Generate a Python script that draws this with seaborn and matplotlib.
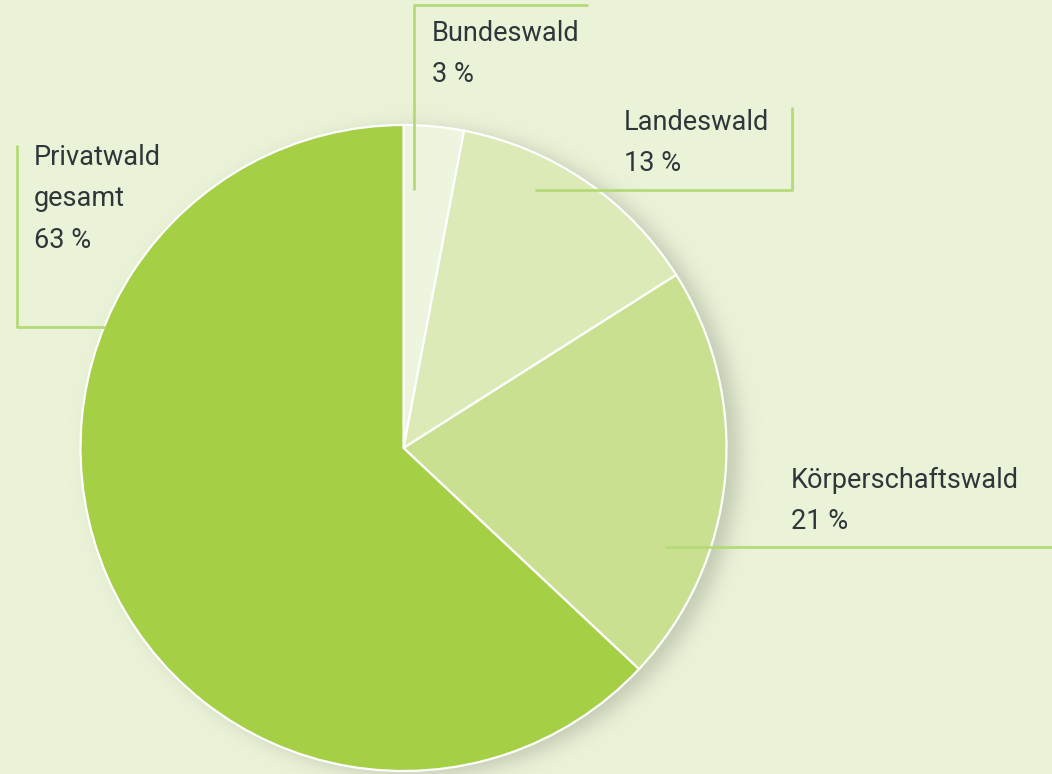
import numpy as np
import matplotlib
matplotlib.use("Agg")
import matplotlib.pyplot as plt
import seaborn as sns

# Forest ownership shares (percent)
categories = ["Bundeswald", "Landeswald", "Körperschaftswald", "Privatwald\ngesamt"]
shares = [3, 13, 21, 63]
colors = ["#eef5df", "#dbeab6", "#c8e090", "#a5cf45"]

sns.set_theme(style="white")
plt.rcParams["font.family"] = ["Roboto", "DejaVu Sans"]

BG = "#eaf3d8"
LINE = "#b5da78"
TEXT = "#30353a"

W, H = 1052, 774
fig = plt.figure(figsize=(W / 100, H / 100), dpi=100, facecolor=BG)
ax = fig.add_axes([0, 0, 1, 1])
ax.set_facecolor(BG)

cx, cy, R = 403.5, H - 448, 323

# soft drop shadow under the pie, offset to the lower right
gx = np.arange(0, W, 1.0)
gy = np.arange(0, H, 1.0)
X, Y = np.meshgrid(gx, gy)
d = np.hypot(X - (cx + 12), Y - (cy - 5)) - R
a = 0.32 / (1 + np.exp(d / 6.0))
shadow = np.zeros((H, W, 4))
shadow[..., 0] = 0.42
shadow[..., 1] = 0.45
shadow[..., 2] = 0.38
shadow[..., 3] = a
ax.imshow(shadow, extent=(0, W, 0, H), origin="lower", zorder=0.5, interpolation="bilinear")

wedges, _ = ax.pie(
    shares,
    colors=colors,
    startangle=90,
    counterclock=False,
    center=(cx, cy),
    radius=R,
    wedgeprops=dict(edgecolor="white", linewidth=1.6),
)
for w in wedges:
    w.set_zorder(1)

ax.set_xlim(0, W)
ax.set_ylim(0, H)
ax.set_aspect("equal")
ax.axis("off")

def py(v):
    return H - v

lw = 2.0
# Bundeswald leader
ax.plot([414, 414, 588], [py(190), py(5), py(5)], color=LINE, lw=lw, zorder=2, solid_capstyle="butt")
# Landeswald leader
ax.plot([535, 792, 792], [py(190), py(190), py(107)], color=LINE, lw=lw, zorder=2, solid_capstyle="butt")
# Privatwald leader
ax.plot([17, 17, 105], [py(145), py(327), py(327)], color=LINE, lw=lw, zorder=2, solid_capstyle="butt")
# Körperschaftswald leader
ax.plot([665, 1052], [py(547), py(547)], color=LINE, lw=lw, zorder=2, solid_capstyle="butt")

labels = [
    (432, 20, f"{categories[0]}\n{shares[0]} %"),
    (624, 109, f"{categories[1]}\n{shares[1]} %"),
    (791, 467, f"{categories[2]}\n{shares[2]} %"),
    (34, 144, f"{categories[3]}\n{shares[3]} %"),
]
for x, y, s in labels:
    ax.text(x, py(y), s, ha="left", va="top", fontsize=19.5, color=TEXT,
            linespacing=1.68, zorder=3)

fig.savefig("out.png", dpi=100, facecolor=BG)
